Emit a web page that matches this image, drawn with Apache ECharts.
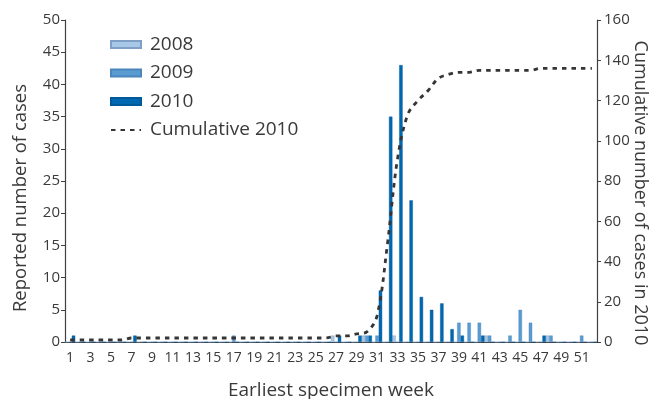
<!DOCTYPE html>
<html>
<head>
<meta charset="utf-8">
<script src="https://cdn.jsdelivr.net/npm/echarts@6/dist/echarts.min.js"></script>
<style>html,body{margin:0;padding:0;background:#fff;}#c{width:656px;height:399px;}</style>
</head>
<body>
<div id="c"></div>
<script>
const weeks = ['1','2','3','4','5','6','7','8','9','10','11','12','13','14','15','16','17','18','19','20','21','22','23','24','25','26','27','28','29','30','31','32','33','34','35','36','37','38','39','40','41','42','43','44','45','46','47','48','49','50','51','52'];
//                 1 2 3 4 5 6 7 8 9 10 11 12 13 14 15 16 17 18 19 20 21 22 23 24 25 26 27 28 29 30 31 32 33 34 35 36 37 38 39 40 41 42 43 44 45 46 47 48 49 50 51 52
const cases2008 = [0,0,0,0,0,0,0,0,0,0, 0, 0, 0, 0, 0, 0, 0, 0, 0, 0, 0, 0, 0, 0, 0, 0, 1, 0, 0, 1, 0, 0, 1, 0, 0, 0, 0, 0, 0, 0, 0, 1, 0, 0, 0, 0, 0, 1, 0, 0, 0, 0];
const cases2009 = [0,0,0,0,0,0,0,0,0,0, 0, 0, 0, 0, 0, 0, 1, 0, 0, 0, 0, 0, 0, 0, 0, 0, 0, 0, 0, 1, 1, 0, 0, 0, 0, 0, 0, 0, 3, 3, 3, 1, 0, 1, 5, 3, 0, 1, 0, 0, 1, 0];
const cases2010 = [1,0,0,0,0,0,1,0,0,0, 0, 0, 0, 0, 0, 0, 0, 0, 0, 0, 0, 0, 0, 0, 0, 0, 1, 0, 1, 1, 8,35,43,22, 7, 5, 6, 2, 1, 0, 1, 0, 0, 0, 0, 0, 1, 0, 0, 0, 0, 0];
const cumulative2010 = [1,1,1,1,1,1,2,2,2,2,2,2,2,2,2,2,2,2,2,2,2,2,2,2,2,2,3,3,4,5,13,48,91,113,120,125,131,133,134,134,135,135,135,135,135,135,136,136,136,136,136,136];
const leftTicks = {min: 0, max: 50, interval: 5};
const rightTicks = {min: 0, max: 160, interval: 20};

const FONT = 'Open Sans';
const TXT = '#3a3a3a';
const AX = '#404040';

const chart = echarts.init(document.getElementById('c'), null, {renderer: 'canvas'});
chart.setOption({
  animation: false,
  backgroundColor: '#fff',
  textStyle: {fontFamily: FONT, color: TXT},
  grid: {left: 65, right: 59, top: 20, bottom: 57, containLabel: false, outerBoundsMode: 'none'},
  legend: {
    orient: 'vertical', left: 105, top: 30,
    itemWidth: 30, itemHeight: 7, itemGap: 9.5,
    textStyle: {fontFamily: FONT, fontSize: 19, color: TXT, padding: [0, 0, 0, 4]},
    data: [
      {name: '2008', icon: 'rect'},
      {name: '2009', icon: 'rect'},
      {name: '2010', icon: 'rect'},
      {name: 'Cumulative 2010', itemStyle: {opacity: 0}}
    ]
  },
  xAxis: {
    type: 'category', data: weeks,
    name: 'Earliest specimen week', nameLocation: 'middle', nameGap: 39, nameMoveOverlap: false,
    nameTextStyle: {fontFamily: FONT, fontSize: 19, color: TXT},
    axisLine: {lineStyle: {color: AX, width: 1.2}},
    axisTick: {interval: 0, length: 4, lineStyle: {color: AX}},
    axisLabel: {interval: 1, fontSize: 14, color: TXT, margin: 9, fontFamily: FONT}
  },
  yAxis: [{
    type: 'value', min: leftTicks.min, max: leftTicks.max, interval: leftTicks.interval,
    name: 'Reported number of cases', nameLocation: 'middle', nameGap: 35, nameMoveOverlap: false,
    nameTextStyle: {fontFamily: FONT, fontSize: 18.5, color: TXT, padding: [0, 34, 0, 0]},
    axisLine: {show: true, lineStyle: {color: AX, width: 1.2}},
    axisTick: {show: true, length: 4, lineStyle: {color: AX}},
    splitLine: {show: false},
    axisLabel: {fontSize: 15, color: TXT, margin: 5, fontFamily: FONT}
  }, {
    type: 'value', min: rightTicks.min, max: rightTicks.max, interval: rightTicks.interval,
    position: 'right',
    name: 'Cumulative number of cases in 2010', nameLocation: 'middle', nameGap: 34, nameRotate: -90, nameMoveOverlap: false,
    nameTextStyle: {fontFamily: FONT, fontSize: 18, color: TXT, padding: [0, 0, 0, 24]},
    axisLine: {show: true, lineStyle: {color: AX, width: 1.2}},
    axisTick: {show: true, length: 4, lineStyle: {color: AX}},
    splitLine: {show: false},
    axisLabel: {fontSize: 15, color: TXT, margin: 7, fontFamily: FONT}
  }],
  series: [
    {name: '2008', type: 'bar', data: cases2008, barGap: '0%', barCategoryGap: '0%',
     itemStyle: {color: '#a9c8e8', borderColor: '#7f9fc4', borderWidth: 0.4}},
    {name: '2009', type: 'bar', data: cases2009, barGap: '0%', barCategoryGap: '0%',
     itemStyle: {color: '#5a9bd2', borderColor: '#4a86bb', borderWidth: 0.4}},
    {name: '2010', type: 'bar', data: cases2010, barGap: '0%', barCategoryGap: '0%',
     itemStyle: {color: '#0068b1', borderColor: '#005a9a', borderWidth: 0.4}},
    {name: 'Cumulative 2010', type: 'line', yAxisIndex: 1, data: cumulative2010,
     smooth: 0.35, symbol: 'none', z: 5,
     lineStyle: {color: '#353535', width: 2.8, type: [4.5, 5]},
     itemStyle: {color: '#353535'}}
  ]
});
</script>
</body>
</html>
